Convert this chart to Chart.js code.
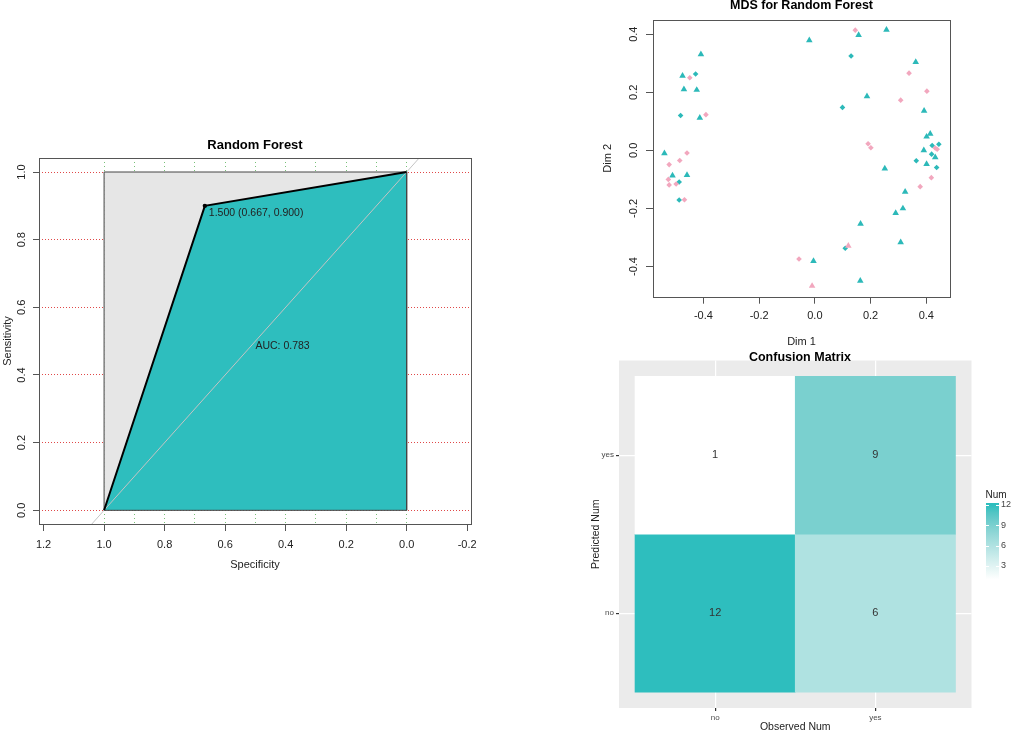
<!DOCTYPE html>
<html>
<head>
<meta charset="utf-8">
<script src="https://cdn.jsdelivr.net/npm/chart.js@4.4.1/dist/chart.umd.min.js"></script>
<style>
  body { margin: 0; background: #fff; }
  #wrap { position: relative; width: 1013px; height: 731px; overflow: hidden; }
  canvas { position: absolute; left: 0; top: 0; }
</style>
</head>
<body>
<div id="wrap">
  <canvas id="roc" width="1013" height="731"></canvas>
  <canvas id="mds" width="1013" height="731"></canvas>
  <canvas id="cm" width="1013" height="731"></canvas>
</div>
<script>
// ROC curve (specificity vs sensitivity)
const rocSpec = [1, 0.667, 0];
const rocSens = [0, 0.9, 1];
const rocThresholdIndex = 1;
const rocThresholdText = '1.500 (0.667, 0.900)';
const rocAucText = 'AUC: 0.783';
const rocXTicks = [1.2, 1.0, 0.8, 0.6, 0.4, 0.2, 0.0, -0.2];
const rocYTicks = [0, 0.2, 0.4, 0.6, 0.8, 1.0];
const rocGridX = [0, 0.1, 0.2, 0.3, 0.4, 0.5, 0.6, 0.7, 0.8, 0.9, 1.0];
const chanceSpec = [1.5, -0.5];
const chanceSens = [-0.5, 1.5];

// MDS points, split by colour and symbol
const tealTriX = [-0.409, -0.475, -0.470, -0.424, -0.413, -0.540, -0.511, -0.459, 0.157, 0.257, -0.020, 0.362, 0.187, 0.392, 0.414, 0.401, 0.391, 0.432, 0.401, 0.251, 0.324, 0.290, 0.316, 0.164, 0.308, -0.005, 0.163];
const tealTriY = [0.331, 0.257, 0.210, 0.208, 0.112, -0.010, -0.087, -0.085, 0.397, 0.415, 0.379, 0.304, 0.186, 0.136, 0.057, 0.047, 0.000, -0.024, -0.047, -0.063, -0.143, -0.216, -0.200, -0.253, -0.317, -0.381, -0.449];
const tealDiaX = [-0.428, -0.482, -0.487, -0.487, 0.130, 0.099, 0.421, 0.445, 0.419, 0.364, 0.437, 0.109];
const tealDiaY = [0.263, 0.120, -0.109, -0.171, 0.325, 0.148, 0.017, 0.021, -0.013, -0.036, -0.059, -0.337];
const pinkDiaX = [-0.449, -0.391, -0.459, -0.523, -0.485, -0.526, -0.523, -0.498, -0.468, -0.057, 0.145, 0.338, 0.402, 0.308, 0.191, 0.201, 0.432, 0.439, 0.418, 0.378];
const pinkDiaY = [0.250, 0.123, -0.009, -0.049, -0.035, -0.100, -0.119, -0.116, -0.170, -0.374, 0.414, 0.266, 0.204, 0.173, 0.023, 0.009, 0.008, 0.004, -0.094, -0.125];
const pinkTriX = [0.120, -0.010];
const pinkTriY = [-0.329, -0.467];
const mdsXTicks = [-0.4, -0.2, 0.0, 0.2, 0.4];
const mdsYTicks = [-0.4, -0.2, 0.0, 0.2, 0.4];

// Confusion matrix: rows = predicted (no, yes), columns = observed (no, yes)
const cmObserved = ['no', 'yes'];
const cmPredicted = ['no', 'yes'];
const cmCounts = [[12, 6], [1, 9]];
const cmLegendBreaks = [3, 6, 9, 12];

const teal = '#2EBEBE';
const mdsTeal = '#2CB9B9';
const mdsPink = '#F2A7BE';
const ink = '#222';
const FAMILY = '"Liberation Sans", Arial, sans-serif';

Chart.defaults.font.family = FAMILY;
Chart.defaults.animation = false;
Chart.defaults.plugins.legend.display = false;
Chart.defaults.plugins.tooltip.enabled = false;

function pts(xs, ys) {
    return xs.map((x, i) => ({ x: x, y: ys[i] }));
}

function setTicks(values) {
    return scale => { scale.ticks = values.map(v => ({ value: v })); };
}

function drawTitle(ctx, text, x, y, size) {
    ctx.save();
    ctx.font = 'bold ' + size + 'px ' + FAMILY;
    ctx.fillStyle = '#000';
    ctx.textAlign = 'center';
    ctx.textBaseline = 'middle';
    ctx.fillText(text, x, y);
    ctx.restore();
}

// R style frame round the plot region
const framePlugin = {
    id: 'frame',
    afterDatasetsDraw(chart) {
        const a = chart.chartArea;
        const ctx = chart.ctx;
        ctx.save();
        ctx.strokeStyle = '#555';
        ctx.lineWidth = 1;
        ctx.strokeRect(Math.round(a.left) + 0.5, Math.round(a.top) + 0.5, Math.round(a.right - a.left), Math.round(a.bottom - a.top));
        ctx.restore();
    }
};

// ---------- ROC ----------
const specMax = Math.max(...rocSpec), specMin = Math.min(...rocSpec);
const sensMax = Math.max(...rocSens), sensMin = Math.min(...rocSens);

const rocNotes = {
    id: 'rocNotes',
    afterDatasetsDraw(chart) {
        const ctx = chart.ctx;
        const xs = chart.scales.x, ys = chart.scales.y;
        ctx.save();
        ctx.font = '10.5px ' + FAMILY;
        ctx.fillStyle = ink;
        ctx.textAlign = 'left';
        ctx.textBaseline = 'top';
        ctx.fillText(rocThresholdText, xs.getPixelForValue(rocSpec[rocThresholdIndex]) + 4, ys.getPixelForValue(rocSens[rocThresholdIndex]) + 2);
        ctx.fillText(rocAucText, xs.getPixelForValue(0.5), ys.getPixelForValue(0.5));
        ctx.restore();
        drawTitle(ctx, 'Random Forest', (chart.chartArea.left + chart.chartArea.right) / 2, 145, 13);
    }
};

new Chart(document.getElementById('roc'), {
    type: 'line',
    data: {
        datasets: [
            {
                data: [{ x: specMax, y: sensMax }, { x: specMin, y: sensMax }],
                fill: 'origin', backgroundColor: '#E6E6E6', borderWidth: 0, pointRadius: 0, order: 6
            },
            {
                data: pts(rocSpec, rocSens),
                fill: 'origin', backgroundColor: teal, borderWidth: 0, pointRadius: 0, order: 5
            },
            {
                data: [{ x: specMax, y: sensMin }, { x: specMax, y: sensMax }, { x: specMin, y: sensMax }, { x: specMin, y: sensMin }, { x: specMax, y: sensMin }],
                fill: false, borderColor: '#444', borderWidth: 1, pointRadius: 0, order: 4
            },
            {
                data: pts(chanceSpec, chanceSens),
                fill: false, borderColor: '#C4C4C4', borderWidth: 1, pointRadius: 0, order: 3
            },
            {
                data: pts(rocSpec, rocSens),
                fill: false, borderColor: '#000', borderWidth: 2, order: 2,
                pointRadius: ctx => ctx.dataIndex === rocThresholdIndex ? 2.2 : 0,
                pointBackgroundColor: '#000', pointBorderWidth: 0
            }
        ]
    },
    options: {
        responsive: false,
        devicePixelRatio: 1,
        layout: { padding: { left: 0, top: 158, right: 542, bottom: 155.5 } },
        scales: {
            x: {
                type: 'linear', reverse: true, min: -0.2126, max: 1.2151,
                afterBuildTicks: setTicks(rocXTicks),
                afterFit: s => { s.height = 51.5; },
                ticks: { autoSkip: false, maxRotation: 0, minRotation: 0, padding: 7, font: { size: 11 }, color: ink, callback: v => v.toFixed(1) },
                grid: { drawOnChartArea: false, tickColor: '#555', tickLength: 7 },
                border: { display: false },
                title: { display: true, text: 'Specificity', font: { size: 11 }, color: ink, padding: { top: 0, bottom: 4 } }
            },
            x2: {
                type: 'linear', reverse: true, position: 'top', min: -0.2126, max: 1.2151,
                afterBuildTicks: setTicks(rocGridX),
                afterFit: s => { s.height = 0; },
                ticks: { display: false },
                grid: { drawTicks: false, color: '#78C078', lineWidth: 1 },
                border: { display: false, dash: [1, 3] }
            },
            y: {
                type: 'linear', min: -0.0405, max: 1.0414,
                afterBuildTicks: setTicks(rocYTicks),
                afterFit: s => { s.width = 39; },
                ticks: { autoSkip: false, minRotation: 90, maxRotation: 90, crossAlign: 'center', padding: 3, font: { size: 11 }, color: ink, callback: v => v.toFixed(1) },
                grid: { color: '#E04848', tickColor: '#555', tickLength: 6, lineWidth: 1 },
                border: { display: false, dash: [1, 2] },
                title: { display: true, text: 'Sensitivity', font: { size: 11 }, color: ink, padding: { top: 1, bottom: 0 } }
            }
        }
    },
    plugins: [framePlugin, rocNotes]
});

// ---------- MDS ----------
const mdsTitle = {
    id: 'mdsTitle',
    afterDraw(chart) {
        drawTitle(chart.ctx, 'MDS for Random Forest', (chart.chartArea.left + chart.chartArea.right) / 2, 6, 12.5);
    }
};

new Chart(document.getElementById('mds'), {
    type: 'scatter',
    data: {
        datasets: [
            { data: pts(pinkDiaX, pinkDiaY), pointStyle: 'rectRot', pointRadius: 2.8, backgroundColor: mdsPink, borderWidth: 0 },
            { data: pts(pinkTriX, pinkTriY), pointStyle: 'triangle', pointRadius: 3.8, backgroundColor: mdsPink, borderWidth: 0 },
            { data: pts(tealDiaX, tealDiaY), pointStyle: 'rectRot', pointRadius: 2.8, backgroundColor: mdsTeal, borderWidth: 0 },
            { data: pts(tealTriX, tealTriY), pointStyle: 'triangle', pointRadius: 3.8, backgroundColor: mdsTeal, borderWidth: 0 }
        ]
    },
    options: {
        responsive: false,
        devicePixelRatio: 1,
        layout: { padding: { left: 600, top: 20, right: 63, bottom: 378.3 } },
        scales: {
            x: {
                type: 'linear', min: -0.581, max: 0.485,
                afterBuildTicks: setTicks(mdsXTicks),
                afterFit: s => { s.height = 56; },
                ticks: { autoSkip: false, maxRotation: 0, minRotation: 0, padding: 5.5, font: { size: 11 }, color: ink, callback: v => v.toFixed(1) },
                grid: { drawOnChartArea: false, tickColor: '#555', tickLength: 7 },
                border: { display: false },
                title: { display: true, text: 'Dim 1', font: { size: 11 }, color: ink, padding: { top: 0, bottom: 4 } }
            },
            y: {
                type: 'linear', min: -0.504, max: 0.449,
                afterBuildTicks: setTicks(mdsYTicks),
                afterFit: s => { s.width = 53; },
                ticks: { autoSkip: false, minRotation: 90, maxRotation: 90, crossAlign: 'center', padding: 3, font: { size: 11 }, color: ink, callback: v => v.toFixed(1) },
                grid: { drawOnChartArea: false, tickColor: '#555', tickLength: 7 },
                border: { display: false },
                title: { display: true, text: 'Dim 2', font: { size: 11 }, color: ink, padding: { top: 1, bottom: 0 } }
            }
        }
    },
    plugins: [framePlugin, mdsTitle]
});

// ---------- Confusion matrix ----------
const cmFlat = cmCounts.flat();
const cmMin = Math.min(...cmFlat), cmMax = Math.max(...cmFlat);
const lowRGB = [255, 255, 255], highRGB = [46, 190, 190];

// sRGB <-> CIELAB, the gradient is interpolated in Lab like ggplot does
function toLab(rgb) {
    const lin = rgb.map(c => { c /= 255; return c <= 0.04045 ? c / 12.92 : Math.pow((c + 0.055) / 1.055, 2.4); });
    const X = (0.4124 * lin[0] + 0.3576 * lin[1] + 0.1805 * lin[2]) / 0.95047;
    const Y = 0.2126 * lin[0] + 0.7152 * lin[1] + 0.0722 * lin[2];
    const Z = (0.0193 * lin[0] + 0.1192 * lin[1] + 0.9505 * lin[2]) / 1.08883;
    const f = t => t > 0.008856 ? Math.cbrt(t) : 7.787 * t + 16 / 116;
    return [116 * f(Y) - 16, 500 * (f(X) - f(Y)), 200 * (f(Y) - f(Z))];
}

function fromLab(lab) {
    const fy = (lab[0] + 16) / 116, fx = fy + lab[1] / 500, fz = fy - lab[2] / 200;
    const inv = t => t * t * t > 0.008856 ? t * t * t : (t - 16 / 116) / 7.787;
    const X = inv(fx) * 0.95047, Y = inv(fy), Z = inv(fz) * 1.08883;
    const lin = [3.2406 * X - 1.5372 * Y - 0.4986 * Z, -0.9689 * X + 1.8758 * Y + 0.0415 * Z, 0.0557 * X - 0.2040 * Y + 1.0570 * Z];
    return lin.map(c => {
        c = c <= 0.0031308 ? 12.92 * c : 1.055 * Math.pow(c, 1 / 2.4) - 0.055;
        return Math.round(Math.min(1, Math.max(0, c)) * 255);
    });
}

const lowLab = toLab(lowRGB), highLab = toLab(highRGB);

function fillFor(v) {
    const t = (v - cmMin) / (cmMax - cmMin);
    const lab = lowLab.map((lo, i) => lo + (highLab[i] - lo) * t);
    return 'rgb(' + fromLab(lab).join(',') + ')';
}

const cmCells = [];
cmPredicted.forEach((p, r) => {
    cmObserved.forEach((o, c) => {
        cmCells.push({ x: c + 1, y: [r + 0.5, r + 1.5], v: cmCounts[r][c] });
    });
});

const cmExtras = {
    id: 'cmExtras',
    beforeDraw(chart) {
        const a = chart.chartArea;
        const ctx = chart.ctx;
        ctx.save();
        ctx.fillStyle = '#EBEBEB';
        ctx.fillRect(a.left, a.top, a.right - a.left, a.bottom - a.top);
        ctx.restore();
    },
    afterDatasetsDraw(chart) {
        const ctx = chart.ctx;
        const xs = chart.scales.x, ys = chart.scales.y;
        ctx.save();
        ctx.font = '11px ' + FAMILY;
        ctx.fillStyle = '#333';
        ctx.textAlign = 'center';
        ctx.textBaseline = 'middle';
        cmCells.forEach(c => {
            ctx.fillText(String(c.v), xs.getPixelForValue(c.x), ys.getPixelForValue((c.y[0] + c.y[1]) / 2));
        });
        ctx.restore();
    },
    afterDraw(chart) {
        const ctx = chart.ctx;
        drawTitle(ctx, 'Confusion Matrix', 800, 357.5, 12.5);

        // colour bar legend
        const barX = 986, barW = 13, yTop = 505, step = 20.3 / 3;
        const yOf = v => yTop + (cmMax - v) * step;
        const top = yOf(cmMax) - 2, bottom = yOf(cmMin);
        const g = ctx.createLinearGradient(0, yOf(cmMax), 0, yOf(cmMin));
        for (let i = 0; i <= 10; i++) {
            g.addColorStop(i / 10, fillFor(cmMax - (cmMax - cmMin) * i / 10));
        }
        ctx.save();
        ctx.fillStyle = g;
        ctx.fillRect(barX, top, barW, bottom - top);
        ctx.strokeStyle = '#fff';
        ctx.lineWidth = 1;
        ctx.font = '9px ' + FAMILY;
        ctx.fillStyle = '#444';
        ctx.textAlign = 'left';
        ctx.textBaseline = 'middle';
        cmLegendBreaks.forEach(b => {
            const y = Math.round(yOf(b)) + 0.5;
            ctx.beginPath();
            ctx.moveTo(barX, y); ctx.lineTo(barX + 3, y);
            ctx.moveTo(barX + barW - 3, y); ctx.lineTo(barX + barW, y);
            ctx.stroke();
            ctx.fillText(String(b), barX + barW + 2, yOf(b));
        });
        ctx.font = '10px ' + FAMILY;
        ctx.fillStyle = '#222';
        ctx.fillText('Num', barX - 0.5, 495);
        ctx.restore();
    }
};

new Chart(document.getElementById('cm'), {
    type: 'bar',
    data: {
        datasets: [{
            data: cmCells,
            backgroundColor: cmCells.map(c => fillFor(c.v)),
            borderWidth: 0,
            barPercentage: 1,
            categoryPercentage: 1
        }]
    },
    options: {
        responsive: false,
        devicePixelRatio: 1,
        layout: { padding: { left: 588, top: 360.5, right: 41.5, bottom: 0 } },
        scales: {
            x: {
                type: 'linear', offset: false, min: 0.4, max: 2.6,
                afterBuildTicks: setTicks(cmObserved.map((_, i) => i + 1)),
                afterFit: s => { s.height = 23; },
                ticks: { autoSkip: false, maxRotation: 0, minRotation: 0, padding: 1.5, font: { size: 8 }, color: '#4D4D4D', callback: v => cmObserved[Math.round(v) - 1] },
                grid: { offset: false, color: '#fff', lineWidth: 1.2, tickColor: '#333', tickLength: 3 },
                border: { display: false },
                title: { display: true, text: 'Observed Num', font: { size: 10.5, lineHeight: 0.8 }, color: '#222', padding: { top: 0, bottom: 0 } }
            },
            y: {
                type: 'linear', min: 0.4, max: 2.6,
                afterBuildTicks: setTicks(cmPredicted.map((_, i) => i + 1)),
                afterFit: s => { s.width = 31; },
                ticks: { autoSkip: false, padding: 2, font: { size: 8 }, color: '#4D4D4D', callback: v => cmPredicted[Math.round(v) - 1] },
                grid: { offset: false, color: '#fff', lineWidth: 1.2, tickColor: '#333', tickLength: 3 },
                border: { display: false },
                title: { display: true, text: 'Predicted Num', font: { size: 10.5 }, color: '#222', padding: { top: 2, bottom: 0 } }
            }
        }
    },
    plugins: [cmExtras]
});
</script>
</body>
</html>
